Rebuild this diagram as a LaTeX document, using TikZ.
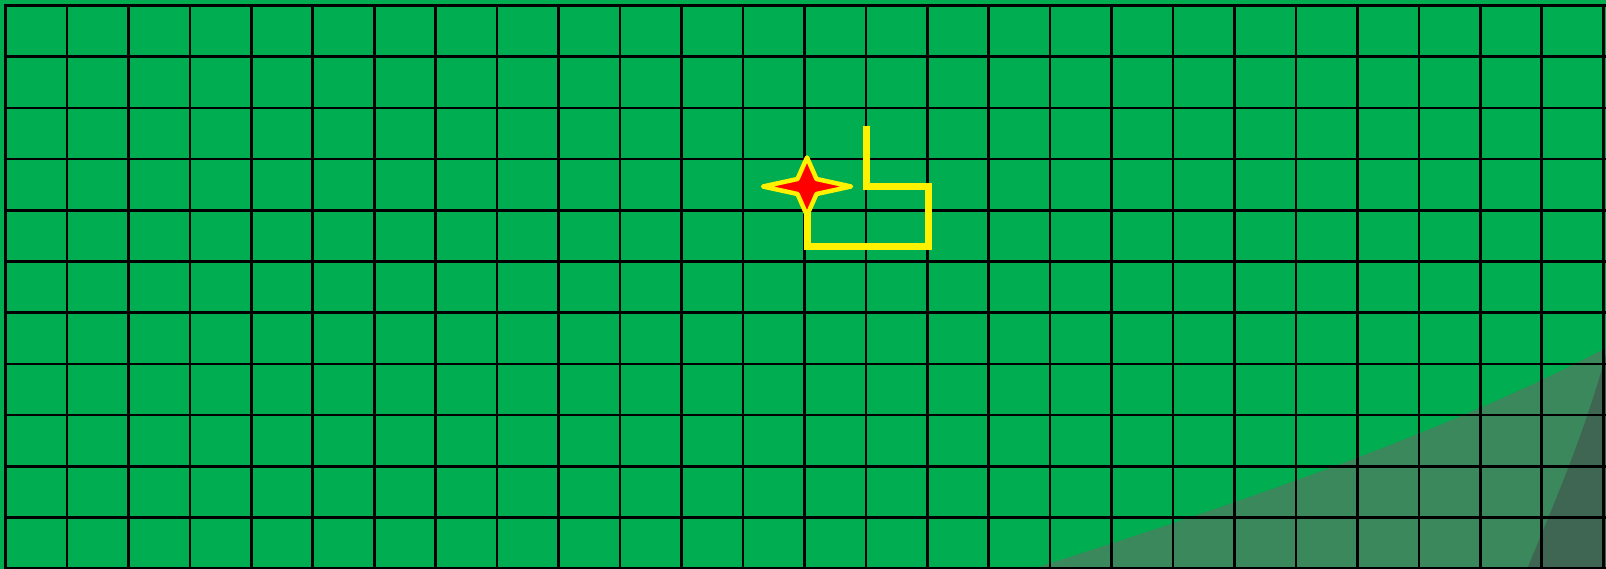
\documentclass[tikz,border=0pt]{standalone}
\usetikzlibrary{positioning}

\definecolor{lawn}{RGB}{0,173,80}
\definecolor{foldlight}{RGB}{58,136,92}
\definecolor{folddark}{RGB}{63,102,82}

\begin{document}
\begin{tikzpicture}[
    x=1pt, y=-1pt,
    gridline/.style={line width=2.6pt, draw=black},
    trail/.style={line width=7pt, draw=yellow, line join=miter},
    sparkle/.style={draw=yellow, fill=red, line width=4.5pt, line join=round},
    curl/.style={fill=foldlight},
    curlshade/.style={fill=folddark}
]

    % ==================== BACKGROUND ====================
    \useasboundingbox (0,0) rectangle (1606,569);
    \fill[lawn] (0,0) rectangle (1606,569);

    % Page curl in the lower right corner
    \fill[curl] (1032,569) .. controls (1250,500) and (1450,430) .. (1606,348) -- (1606,569) -- cycle;
    \fill[curlshade] (1527,569) .. controls (1560,490) and (1585,430) .. (1606,355) -- (1606,569) -- cycle;

    % ==================== GRID ====================
    \foreach \k in {0,...,26}
        \draw[gridline] ({5.5+61.45*\k},5.5) -- ({5.5+61.45*\k},569);
    \foreach \k in {0,...,11}
        \draw[gridline] (4.2,{5.5+51.2*\k}) -- (1606,{5.5+51.2*\k});

    % ==================== TRAIL ====================
    \coordinate (tail) at (866,126);
    \coordinate (bend) at (866,186.5);
    \coordinate (ne) at (928,186.5);
    \coordinate (se) at (928,246.5);
    \coordinate (sw) at (807,246.5);
    \coordinate (robot) at (807,186.5);

    \draw[trail] (tail) -- (bend) -- (ne) -- (se) -- (sw) -- (robot);

    % Star at the end of the trail
    \draw[sparkle, shift={(robot)}]
        (44,0) -- (9.5,-7.5) -- (0,-29) -- (-9.5,-7.5) -- (-44,0) -- (-9.5,7.5) -- (0,29) -- (9.5,7.5) -- cycle;

\end{tikzpicture}
\end{document}
